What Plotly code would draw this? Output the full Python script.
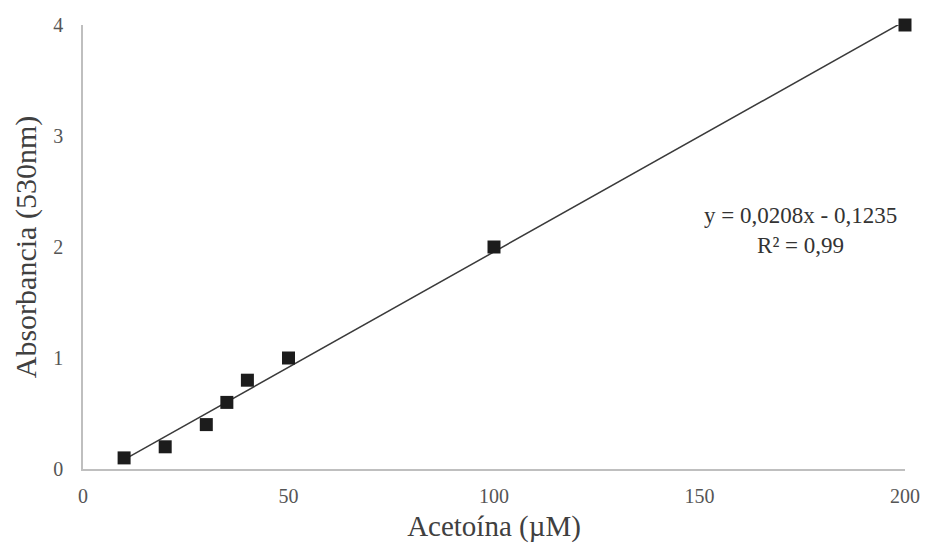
import plotly.graph_objects as go

conc = [10, 20, 30, 35, 40, 50, 100, 200]
absorb = [0.1, 0.2, 0.4, 0.6, 0.8, 1.0, 2.0, 4.0]
slope = 0.0208
intercept = -0.1235
x_ticks = [0, 50, 100, 150, 200]
y_ticks = [0, 1, 2, 3, 4]

line_x = [min(conc), max(conc)]
line_y = [slope * v + intercept for v in line_x]

fig = go.Figure()
fig.add_trace(go.Scatter(x=line_x, y=line_y, mode="lines", cliponaxis=False,
                         line=dict(color="#3a3a3a", width=1.5), showlegend=False))
fig.add_trace(go.Scatter(x=conc, y=absorb, mode="markers", cliponaxis=False,
                         marker=dict(symbol="square", size=13, color="#1c1c1c"),
                         showlegend=False))

font_fam = "Liberation Serif"
fig.add_annotation(x=174.5, y=2.0, xref="x", yref="y",
                   text="y = 0,0208x - 0,1235<br>R² = 0,99", showarrow=False,
                   font=dict(family=font_fam, size=23, color="#333333"),
                   align="center", yanchor="middle", yshift=17)

fig.update_layout(
    width=926, height=553,
    margin=dict(l=83, r=21, t=25, b=84),
    paper_bgcolor="white", plot_bgcolor="white",
    xaxis=dict(range=[0, 200], tickvals=x_ticks, showgrid=False, zeroline=False,
               showline=True, linecolor="#bfbfbf", linewidth=1.5, ticks="",
               automargin=False, ticklabelstandoff=8,
               tickfont=dict(family=font_fam, size=20, color="#555555"),
               title=dict(text="Acetoína (µM)", font=dict(family=font_fam, size=29, color="#404040"),
                          standoff=10)),
    yaxis=dict(range=[0, 4], tickvals=y_ticks, showgrid=False, zeroline=False,
               showline=True, linecolor="#bfbfbf", linewidth=1.5, ticks="",
               automargin=False, ticklabelstandoff=14,
               tickfont=dict(family=font_fam, size=20, color="#555555"),
               title=dict(text="Absorbancia (530nm)", font=dict(family=font_fam, size=30, color="#404040"),
                          standoff=8)),
)
fig.write_html("out.html")
